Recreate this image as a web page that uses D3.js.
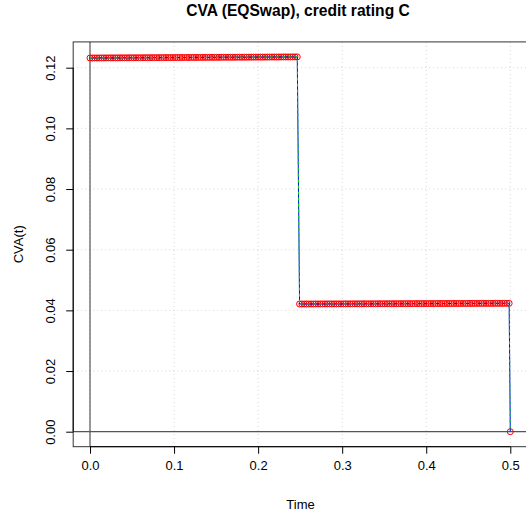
<!DOCTYPE html>
<html>
<head>
<meta charset="utf-8">
<script src="https://cdn.jsdelivr.net/npm/d3@7"></script>
<style>
  html, body { margin: 0; padding: 0; background: #fff; }
  svg { display: block; font-family: "Liberation Sans", Arial, sans-serif; }
</style>
</head>
<body>
<svg id="chart" width="526" height="518"></svg>
<script>
// CVA profile of an equity swap, counterparty rating C
const title = "CVA (EQSwap), credit rating C";
const xLabel = "Time";
const yLabel = "CVA(t)";
const xTicks = [0, 0.1, 0.2, 0.3, 0.4, 0.5];
const yTicks = [0, 0.02, 0.04, 0.06, 0.08, 0.10, 0.12];
const xTickLabels = ["0.0", "0.1", "0.2", "0.3", "0.4", "0.5"];
const yTickLabels = ["0.00", "0.02", "0.04", "0.06", "0.08", "0.10", "0.12"];

// daily time grid (in years) up to the first reset, then to maturity
const firstPeriodDays = d3.range(0, 91);
const secondPeriodDays = d3.range(91, 183);
const maturity = 0.5;

// CVA before the first reset
const cvaFirstPeriod = [
  0.12320,0.12320,0.12321,0.12321,0.12322,0.12322,0.12322,0.12323,0.12323,0.12324,
  0.12324,0.12324,0.12325,0.12325,0.12326,0.12326,0.12326,0.12327,0.12327,0.12328,
  0.12328,0.12328,0.12329,0.12329,0.12330,0.12330,0.12330,0.12331,0.12331,0.12332,
  0.12332,0.12332,0.12333,0.12333,0.12334,0.12334,0.12334,0.12335,0.12335,0.12336,
  0.12336,0.12336,0.12337,0.12337,0.12338,0.12338,0.12338,0.12339,0.12339,0.12340,
  0.12340,0.12340,0.12341,0.12341,0.12342,0.12342,0.12342,0.12343,0.12343,0.12344,
  0.12344,0.12344,0.12345,0.12345,0.12346,0.12346,0.12346,0.12347,0.12347,0.12348,
  0.12348,0.12348,0.12349,0.12349,0.12350,0.12350,0.12350,0.12351,0.12351,0.12352,
  0.12352,0.12352,0.12353,0.12353,0.12354,0.12354,0.12354,0.12355,0.12355,0.12356,
  0.12356
];
// CVA between the reset and maturity
const cvaSecondPeriod = [
  0.04210,0.04210,0.04210,0.04211,0.04211,0.04211,0.04211,0.04212,0.04212,0.04212,
  0.04212,0.04213,0.04213,0.04213,0.04213,0.04214,0.04214,0.04214,0.04214,0.04215,
  0.04215,0.04215,0.04215,0.04216,0.04216,0.04216,0.04216,0.04217,0.04217,0.04217,
  0.04217,0.04218,0.04218,0.04218,0.04218,0.04219,0.04219,0.04219,0.04219,0.04220,
  0.04220,0.04220,0.04220,0.04221,0.04221,0.04221,0.04221,0.04222,0.04222,0.04222,
  0.04222,0.04223,0.04223,0.04223,0.04223,0.04224,0.04224,0.04224,0.04224,0.04225,
  0.04225,0.04225,0.04225,0.04226,0.04226,0.04226,0.04226,0.04227,0.04227,0.04227,
  0.04227,0.04228,0.04228,0.04228,0.04228,0.04229,0.04229,0.04229,0.04229,0.04230,
  0.04230,0.04230,0.04230,0.04231,0.04231,0.04231,0.04231,0.04232,0.04232,0.04232,
  0.04232,0.04233
];
const cvaAtMaturity = 0;

const points = [
  ...firstPeriodDays.map((d, i) => ({ t: d / 365, v: cvaFirstPeriod[i] })),
  ...secondPeriodDays.map((d, i) => ({ t: d / 365, v: cvaSecondPeriod[i] })),
  { t: maturity, v: cvaAtMaturity }
];

const svg = d3.select("#chart");

const x = d3.scaleLinear().domain([0, 0.5]).range([90, 510.3]);
const y = d3.scaleLinear().domain([0, 0.12]).range([431.7, 67.7]);

const vMax = d3.max(points, d => d.v);
const boxLeft = x(-0.02), boxRight = x(0.52);
const boxTop = y(vMax * 1.04), boxBottom = y(-vMax * 0.04);

// grid
const grid = svg.append("g").attr("stroke", "#d3d3d3").attr("stroke-width", 1)
  .attr("stroke-dasharray", "1,3");
grid.selectAll(".gx").data(xTicks).join("line")
  .attr("x1", d => x(d)).attr("x2", d => x(d))
  .attr("y1", boxTop).attr("y2", boxBottom);
grid.selectAll(".gy").data(yTicks).join("line")
  .attr("x1", boxLeft).attr("x2", boxRight)
  .attr("y1", d => y(d)).attr("y2", d => y(d));

// reference lines through the origin
svg.append("line").attr("x1", x(0)).attr("x2", x(0)).attr("y1", boxTop).attr("y2", boxBottom)
  .attr("stroke", "#555").attr("stroke-width", 1.2);
svg.append("line").attr("x1", boxLeft).attr("x2", boxRight).attr("y1", y(0)).attr("y2", y(0))
  .attr("stroke", "#555").attr("stroke-width", 1.2);

// series
const line = d3.line().x(d => x(d.t)).y(d => y(d.v));
svg.append("g").selectAll("circle").data(points).join("circle")
  .attr("cx", d => x(d.t)).attr("cy", d => y(d.v)).attr("r", 3)
  .attr("fill", "none").attr("stroke", "#ff0000").attr("stroke-width", 1);
svg.append("path").datum(points).attr("d", line)
  .attr("fill", "none").attr("stroke", "#0000ff").attr("stroke-width", 1);
svg.append("path").datum(points).attr("d", line)
  .attr("fill", "none").attr("stroke", "#00e000").attr("stroke-width", 1)
  .attr("stroke-dasharray", "3,3");

// plot box
svg.append("rect").attr("x", boxLeft).attr("y", boxTop)
  .attr("width", boxRight - boxLeft).attr("height", boxBottom - boxTop)
  .attr("fill", "none").attr("stroke", "#333").attr("stroke-width", 1);

// x axis
const xAxis = d3.axisBottom(x).tickValues(xTicks).tickSize(7).tickPadding(7)
  .tickFormat((d, i) => xTickLabels[i]);
const gx = svg.append("g").attr("transform", `translate(0,${boxBottom})`).call(xAxis);
gx.select(".domain").attr("stroke", "#000").attr("d", `M${x(0)},0H${x(0.5)}`);
gx.selectAll(".tick line").attr("stroke", "#000");
gx.selectAll("text").attr("font-size", 13).attr("fill", "#000")
  .attr("font-family", "Liberation Sans, Arial, sans-serif");

// y axis
const yAxis = d3.axisLeft(y).tickValues(yTicks).tickSize(7).tickPadding(0)
  .tickFormat((d, i) => yTickLabels[i]);
const gy = svg.append("g").attr("transform", `translate(${boxLeft},0)`).call(yAxis);
gy.select(".domain").attr("stroke", "#000").attr("d", `M0,${y(0)}V${y(0.12)}`);
gy.selectAll(".tick line").attr("stroke", "#000");
gy.selectAll("text")
  .attr("font-size", 13).attr("fill", "#000")
  .attr("font-family", "Liberation Sans, Arial, sans-serif")
  .attr("x", null).attr("dy", null)
  .attr("text-anchor", "middle")
  .attr("transform", `translate(${55 - boxLeft},0) rotate(-90)`);

// labels
svg.append("text").attr("x", 298).attr("y", 16).attr("text-anchor", "middle")
  .attr("font-size", 15.6).attr("font-weight", "bold").text(title);
svg.append("text").attr("x", 300.5).attr("y", 509).attr("text-anchor", "middle")
  .attr("font-size", 13).text(xLabel);
svg.append("text").attr("transform", `translate(23,${(boxTop + boxBottom) / 2}) rotate(-90)`)
  .attr("text-anchor", "middle").attr("font-size", 13).text(yLabel);
</script>
</body>
</html>
